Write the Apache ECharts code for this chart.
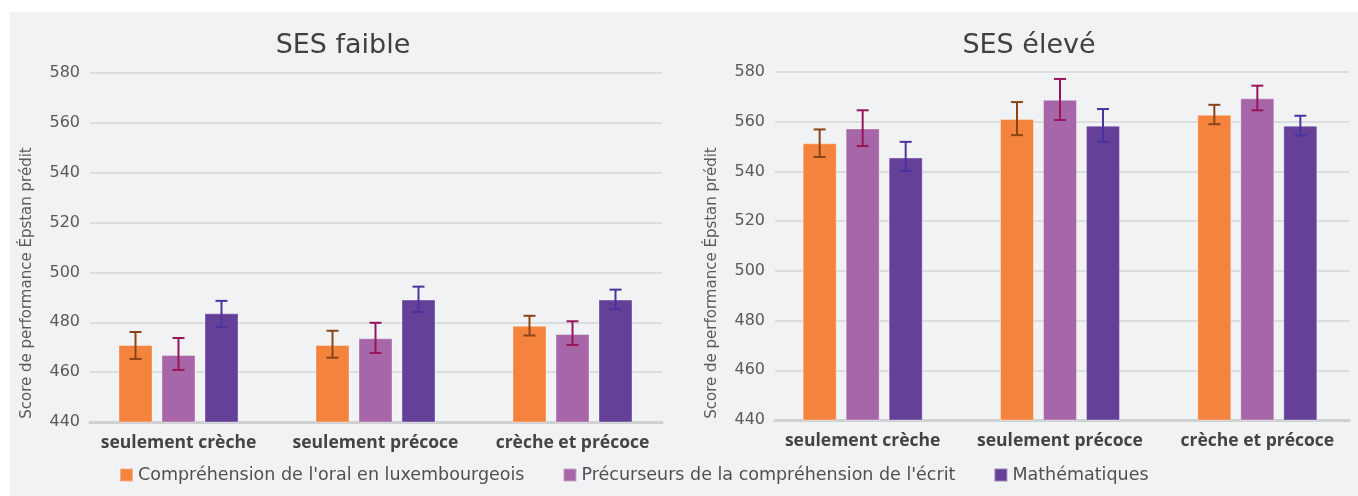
<!DOCTYPE html>
<html lang="fr">
<head>
    <meta charset="utf-8">
    <title>SES</title>
    <script src="https://cdn.jsdelivr.net/npm/echarts@6/dist/echarts.min.js"></script>
    <style>
        html, body { margin: 0; padding: 0; background: #ffffff; }
        #panel { position: absolute; left: 10px; top: 12px; width: 1348px; height: 484px; background: #f1f2f4; }
        #chart { position: absolute; left: 0; top: 0; width: 1358px; height: 496px; }
    </style>
</head>
<body>
<div id="panel"></div>
<div id="chart"></div>
<script>
    // données
    var categories = ['seulement crèche', 'seulement précoce', 'crèche et précoce'];
    var seriesNames = ["Compréhension de l'oral en luxembourgeois", "Précurseurs de la compréhension de l'écrit", 'Mathématiques'];
    var panelTitles = ['SES faible', 'SES élevé'];
    var yAxisName = 'Score de performance Épstan prédit';
    var yTicks = [440, 460, 480, 500, 520, 540, 560, 580];

    // SES faible
    var faibleOral = [470.9, 470.9, 478.6];
    var faibleOralLow = [465.3, 465.8, 474.7];
    var faibleOralHigh = [476.1, 476.6, 482.6];
    var faibleEcrit = [466.9, 473.6, 475.3];
    var faibleEcritLow = [460.9, 467.7, 470.9];
    var faibleEcritHigh = [473.7, 479.8, 480.4];
    var faibleMath = [483.6, 489.1, 489.1];
    var faibleMathLow = [478.1, 484.1, 485.3];
    var faibleMathHigh = [488.6, 494.3, 493.1];

    // SES élevé
    var eleveOral = [551.3, 561.1, 562.8];
    var eleveOralLow = [545.8, 554.6, 559.0];
    var eleveOralHigh = [556.9, 567.9, 566.8];
    var eleveEcrit = [557.3, 568.8, 569.4];
    var eleveEcritLow = [550.2, 560.7, 564.6];
    var eleveEcritHigh = [564.6, 577.2, 574.5];
    var eleveMath = [545.6, 558.4, 558.4];
    var eleveMathLow = [540.2, 551.9, 554.5];
    var eleveMathHigh = [551.9, 565.1, 562.4];

    var barColors = ['#f4833d', '#a766a8', '#654098'];
    var errColors = ['#8a4418', '#97165b', '#4c31a0'];
    var BAR_W = 34, BAR_GAP = 9;
    var SANS = '"DejaVu Sans", sans-serif';
    var LABEL_FONT = '"Open Sans", "Noto Sans", sans-serif';

    var chart = echarts.init(document.getElementById('chart'), null, {renderer: 'canvas'});

    // grilles 0/1 : quadrillage + ligne d'axe ; grilles 2/3 : barres + libellés de catégories
    var PLOT = 2;

    function errSeries(idx, panel, lows, highs) {
        var data = [];
        for (var i = 0; i < lows.length; i++) data.push([i, lows[i], highs[i]]);
        var offset = (idx - 1) * (BAR_W + BAR_GAP);
        return {
            type: 'custom',
            xAxisIndex: PLOT + panel,
            yAxisIndex: PLOT + panel,
            z: 5,
            silent: true,
            data: data,
            renderItem: function (params, api) {
                var lo = api.coord([api.value(0), api.value(1)]);
                var hi = api.coord([api.value(0), api.value(2)]);
                var x = lo[0] + offset;
                var cap = 6;
                var st = {stroke: errColors[idx], lineWidth: 2};
                return {
                    type: 'group',
                    children: [
                        {type: 'line', shape: {x1: x, y1: lo[1], x2: x, y2: hi[1]}, style: st},
                        {type: 'line', shape: {x1: x - cap, y1: lo[1], x2: x + cap, y2: lo[1]}, style: st},
                        {type: 'line', shape: {x1: x - cap, y1: hi[1], x2: x + cap, y2: hi[1]}, style: st}
                    ]
                };
            }
        };
    }

    function barSeries(idx, panel, values) {
        return {
            name: seriesNames[idx],
            type: 'bar',
            xAxisIndex: PLOT + panel,
            yAxisIndex: PLOT + panel,
            barWidth: BAR_W,
            barGap: (BAR_GAP / BAR_W * 100) + '%',
            z: 3,
            itemStyle: {color: barColors[idx], borderColor: 'rgba(255,255,255,0.35)', borderWidth: 1},
            data: values
        };
    }

    function xAxisLine(gridIdx) {
        return {
            type: 'category',
            gridIndex: gridIdx,
            data: categories,
            axisTick: {show: false},
            axisLabel: {show: false},
            axisLine: {lineStyle: {color: '#cfd0d2', width: 3}}
        };
    }

    function xAxisLabels(gridIdx) {
        return {
            type: 'category',
            gridIndex: gridIdx,
            data: categories,
            axisTick: {show: false},
            axisLine: {show: false},
            axisLabel: {interval: 0, color: '#444444', fontSize: 17.5, fontWeight: 'bold', fontFamily: LABEL_FONT, margin: 12}
        };
    }

    function yAxisGrid(gridIdx) {
        return {
            type: 'value',
            gridIndex: gridIdx,
            min: yTicks[0],
            max: yTicks[yTicks.length - 1],
            interval: 20,
            axisLine: {show: false},
            axisTick: {show: false},
            axisLabel: {color: '#5a5a5a', fontSize: 16, fontFamily: SANS, margin: 10},
            splitLine: {lineStyle: {color: '#d5d6d8', width: 1.5}}
        };
    }

    function yAxisHidden(gridIdx) {
        return {
            type: 'value',
            gridIndex: gridIdx,
            min: yTicks[0],
            max: yTicks[yTicks.length - 1],
            show: false,
            splitLine: {show: false}
        };
    }

    function axisNameText(x, y) {
        return {
            type: 'text',
            x: x,
            y: y,
            rotation: Math.PI / 2,
            silent: true,
            style: {text: yAxisName, fill: '#5a5a5a', font: '15px ' + SANS, align: 'center', verticalAlign: 'middle'}
        };
    }

    var option = {
        backgroundColor: 'transparent',
        animation: false,
        title: [
            {text: panelTitles[0], left: 338, top: 27, textAlign: 'center',
             textStyle: {color: '#404040', fontSize: 27, fontWeight: 'normal', fontFamily: SANS}},
            {text: panelTitles[1], left: 1024, top: 27, textAlign: 'center',
             textStyle: {color: '#404040', fontSize: 27, fontWeight: 'normal', fontFamily: SANS}}
        ],
        legend: {
            data: seriesNames,
            left: 114,
            top: 461,
            itemWidth: 13,
            itemHeight: 13,
            itemGap: 38,
            icon: 'rect',
            textStyle: {color: '#505050', fontSize: 17.5, fontFamily: SANS}
        },
        graphic: [axisNameText(27, 283), axisNameText(712, 283)],
        grid: [
            {left: 90, top: 73, width: 572, height: 349},
            {left: 775, top: 72, width: 574, height: 348},
            {left: 80, top: 73, width: 591, height: 349},
            {left: 764, top: 72, width: 592, height: 348}
        ],
        xAxis: [xAxisLine(0), xAxisLine(1), xAxisLabels(2), xAxisLabels(3)],
        yAxis: [yAxisGrid(0), yAxisGrid(1), yAxisHidden(2), yAxisHidden(3)],
        series: [
            barSeries(0, 0, faibleOral),
            barSeries(1, 0, faibleEcrit),
            barSeries(2, 0, faibleMath),
            barSeries(0, 1, eleveOral),
            barSeries(1, 1, eleveEcrit),
            barSeries(2, 1, eleveMath),
            errSeries(0, 0, faibleOralLow, faibleOralHigh),
            errSeries(1, 0, faibleEcritLow, faibleEcritHigh),
            errSeries(2, 0, faibleMathLow, faibleMathHigh),
            errSeries(0, 1, eleveOralLow, eleveOralHigh),
            errSeries(1, 1, eleveEcritLow, eleveEcritHigh),
            errSeries(2, 1, eleveMathLow, eleveMathHigh)
        ]
    };

    chart.setOption(option);
    window.onresize = chart.resize;
</script>
</body>
</html>
